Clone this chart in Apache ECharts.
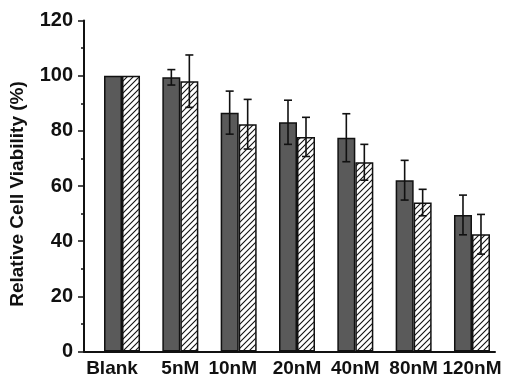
<!DOCTYPE html>
<html>
<head>
<meta charset="utf-8">
<script src="https://cdn.jsdelivr.net/npm/echarts@6/dist/echarts.min.js"></script>
<style>
html,body{margin:0;padding:0;background:#fff;}
#chart{width:505px;height:374px;}
</style>
</head>
<body>
<div id="chart"></div>
<script>
// ---- data ----
var categories = ['Blank', '5nM', '10nM', '20nM', '40nM', '80nM', '120nM'];
var darkValues = [100, 99.4, 86.6, 83.1, 77.5, 62.1, 49.5];
var darkErrors = [0, 2.8, 7.8, 8.0, 8.7, 7.2, 7.2];
var hatchValues = [100, 98.0, 82.4, 77.8, 68.6, 54.0, 42.5];
var hatchErrors = [0, 9.5, 9.0, 7.1, 6.5, 4.8, 7.2];
var yAxisName = 'Relative Cell Viability (%)';

// ---- hatch pattern ----
function makeHatch() {
  var c = document.createElement('canvas');
  c.width = 6; c.height = 6;
  var ctx = c.getContext('2d');
  ctx.fillStyle = '#ffffff';
  ctx.fillRect(0, 0, 6, 6);
  ctx.strokeStyle = '#111111';
  ctx.lineWidth = 1.1;
  ctx.beginPath();
  ctx.moveTo(-1, 7); ctx.lineTo(7, -1);
  ctx.moveTo(-1, 1); ctx.lineTo(1, -1);
  ctx.moveTo(5, 7); ctx.lineTo(7, 5);
  ctx.stroke();
  return c;
}
var hatch = makeHatch();

var FONT = "'Liberation Sans', Arial, sans-serif";
var BAR_W = 18;

function errData(vals, errs, sign) {
  return vals.map(function (v, i) { return [i, v, errs[i], sign]; });
}

function renderErr(params, api) {
  var idx = api.value(0), v = api.value(1), e = api.value(2), sign = api.value(3);
  if (!e) return null;
  var top = api.coord([idx, v + e]);
  var bot = api.coord([idx, v - e]);
  var x = top[0] + sign * BAR_W / 2;
  var cap = 4;
  var st = {stroke: '#111', lineWidth: 1.6};
  return {
    type: 'group',
    children: [
      {type: 'line', shape: {x1: x, y1: top[1], x2: x, y2: bot[1]}, style: st},
      {type: 'line', shape: {x1: x - cap, y1: top[1], x2: x + cap, y2: top[1]}, style: st},
      {type: 'line', shape: {x1: x - cap, y1: bot[1], x2: x + cap, y2: bot[1]}, style: st}
    ]
  };
}

var chart = echarts.init(document.getElementById('chart'), null, {renderer: 'canvas'});
var gridTop = 20.5, gridBottom = 22.5;
var option = {
  backgroundColor: '#ffffff',
  animation: false,
  grid: [
    {left: 84, right: 10, top: gridTop, bottom: gridBottom, containLabel: false, outerBoundsMode: 'none'},
    {left: 92.85, width: 408.3, top: gridTop, bottom: gridBottom, containLabel: false, outerBoundsMode: 'none'}
  ],
  xAxis: [
    {
      gridIndex: 0, type: 'value', min: 0, max: 1,
      axisLine: {show: true, lineStyle: {color: '#111', width: 2}},
      axisTick: {show: false}, axisLabel: {show: false}, splitLine: {show: false}
    },
    {
      gridIndex: 1, type: 'category',
      data: categories.map(function (c, i) {
        if (i === 0) return {value: c, textStyle: {padding: [0, 20, 0, 0]}};
        if (i === 2) return {value: c, textStyle: {padding: [0, 12, 0, 0]}};
        return c;
      }),
      axisLine: {show: false}, axisTick: {show: false},
      axisLabel: {interval: 0, margin: 8, color: '#111', fontFamily: FONT, fontWeight: 'bold', fontSize: 19},
      splitLine: {show: false}
    }
  ],
  yAxis: [
    {
      gridIndex: 0, type: 'value', min: 0, max: 120, interval: 20,
      name: yAxisName, nameLocation: 'middle', nameGap: 57,
      nameTextStyle: {color: '#111', fontFamily: FONT, fontWeight: 'bold', fontSize: 19, padding: [0, 16, 0, 0]},
      axisLine: {show: true, lineStyle: {color: '#111', width: 2}},
      axisTick: {show: true, inside: false, length: 6, lineStyle: {color: '#111', width: 1.5}},
      minorTick: {show: true, splitNumber: 2, length: 3, lineStyle: {color: '#111', width: 1.5}},
      axisLabel: {margin: 11, color: '#111', fontFamily: FONT, fontWeight: 'bold', fontSize: 20},
      splitLine: {show: false}
    },
    {
      gridIndex: 1, type: 'value', min: 0, max: 120, show: false
    }
  ],
  series: [
    {
      type: 'bar', xAxisIndex: 1, yAxisIndex: 1, data: darkValues,
      barWidth: BAR_W, barGap: '0%',
      itemStyle: {color: '#5a5a5a', borderColor: '#111', borderWidth: 1.5}
    },
    {
      type: 'bar', xAxisIndex: 1, yAxisIndex: 1, data: hatchValues,
      barWidth: BAR_W, barGap: '0%',
      itemStyle: {color: {image: hatch, repeat: 'repeat'}, borderColor: '#111', borderWidth: 1.5}
    },
    {
      type: 'custom', xAxisIndex: 1, yAxisIndex: 1, z: 5,
      data: errData(darkValues, darkErrors, -1), renderItem: renderErr
    },
    {
      type: 'custom', xAxisIndex: 1, yAxisIndex: 1, z: 5,
      data: errData(hatchValues, hatchErrors, 1), renderItem: renderErr
    }
  ]
};
chart.setOption(option);
</script>
</body>
</html>
